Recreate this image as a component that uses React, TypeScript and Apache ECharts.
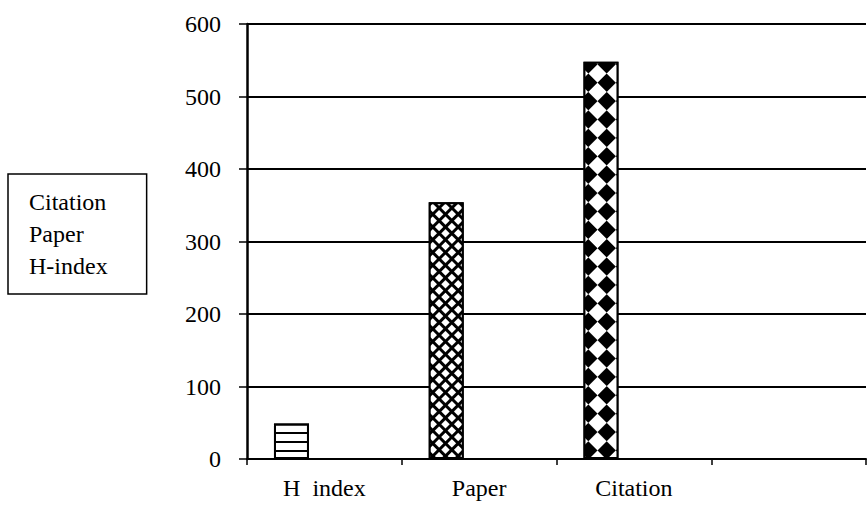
import React, { useEffect, useRef } from 'react';
import * as echarts from 'echarts';

const categories = ['H  index', 'Paper', 'Citation', ''];
const hIndexValues: (number | string)[] = [49, '-', '-', '-'];
const paperValues: (number | string)[] = ['-', 354, '-', '-'];
const citationValues: (number | string)[] = ['-', '-', 548, '-'];
const emptyValues: (number | string)[] = ['-', '-', '-', '-'];
const legendNames = ['Citation', 'Paper', 'H-index'];
const yMin = 0;
const yMax = 600;
const yStep = 100;

export default function App() {
  const ref = useRef<HTMLDivElement>(null);
  useEffect(() => {
    const chart = echarts.init(ref.current!, null, { renderer: 'svg' });
    const font = '"Liberation Serif", "Times New Roman", serif';
    const base = {
      type: 'bar',
      barWidth: 35,
      barGap: '-6%',
      itemStyle: { borderColor: '#000', borderWidth: 2 },
    };
    chart.setOption({
      animation: false,
      backgroundColor: '#fff',
      textStyle: { fontFamily: font, color: '#000' },
      grid: { left: 247, right: 1, top: 24, bottom: 51, containLabel: false },
      legend: {
        data: legendNames,
        orient: 'vertical',
        left: 8,
        top: 174,
        icon: 'none',
        itemWidth: 0,
        itemHeight: 24,
        itemGap: 8,
        padding: [16, 39, 16, 16],
        borderColor: '#000',
        borderWidth: 1.5,
        selectedMode: false,
        textStyle: { fontFamily: font, fontSize: 24, color: '#000', lineHeight: 24 },
      },
      xAxis: {
        type: 'category',
        data: categories,
        axisLine: { show: true, lineStyle: { color: '#000', width: 2 } },
        axisTick: { show: true, length: 6, lineStyle: { color: '#000', width: 1.5 } },
        axisLabel: { fontFamily: font, fontSize: 24, color: '#000', margin: 17 },
        splitLine: { show: false },
      },
      yAxis: {
        type: 'value',
        min: yMin,
        max: yMax,
        interval: yStep,
        axisLine: { show: true, lineStyle: { color: '#000', width: 2.5 } },
        axisTick: { show: true, length: 8, lineStyle: { color: '#000', width: 1.5 } },
        axisLabel: { fontFamily: font, fontSize: 24, color: '#000', margin: 26 },
        splitLine: { show: true, lineStyle: { color: '#000', width: 2 } },
      },
      series: [
        {
          ...base,
          name: 'H-index',
          stack: 'main',
          data: hIndexValues,
          itemStyle: {
            color: '#fff',
            borderColor: '#000',
            borderWidth: 2,
            decal: {
              symbol: 'rect',
              color: '#000',
              backgroundColor: '#fff',
              dashArrayX: [1, 0],
              dashArrayY: [2, 7],
              rotation: 0,
              symbolSize: 1,
            },
          },
        },
        {
          ...base,
          name: 'Paper',
          stack: 'main',
          data: paperValues,
          itemStyle: {
            color: '#000',
            borderColor: '#000',
            borderWidth: 2,
            decal: {
              symbol: 'rect',
              color: '#fff',
              backgroundColor: '#000',
              dashArrayX: [6, 2.6],
              dashArrayY: [6, 2.6],
              rotation: Math.PI / 4,
              symbolSize: 1,
            },
          },
        },
        {
          ...base,
          name: 'Citation',
          stack: 'main',
          data: citationValues,
          itemStyle: {
            color: '#000',
            borderColor: '#000',
            borderWidth: 2,
            decal: {
              symbol: 'rect',
              color: '#fff',
              backgroundColor: '#000',
              dashArrayX: [[12.7, 12.7], [0, 12.7, 12.7, 0]],
              dashArrayY: [12.7, 0],
              rotation: Math.PI / 4,
              symbolSize: 1,
            },
          },
        },
        { ...base, name: 'spacer1', data: emptyValues },
        { ...base, name: 'spacer2', data: emptyValues },
      ],
    });
    return () => chart.dispose();
  }, []);
  return (
    <div
      ref={ref}
      style={{ position: 'absolute', left: 0, top: 0, width: 867, height: 510 }}
    />
  );
}
